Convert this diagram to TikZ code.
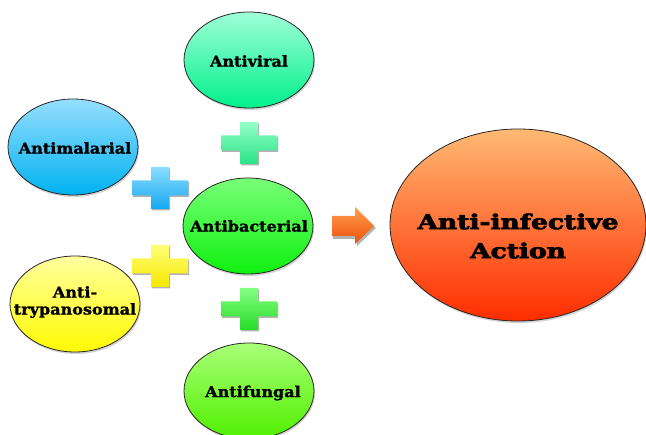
\documentclass[tikz,border=0pt]{standalone}
\usepackage{fontspec}
\setmainfont{DejaVu Serif}
\newfontfamily\heavyfont[FakeBold=1.2]{DejaVu Serif Bold}
\newfontfamily\titlefont[FakeBold=3]{DejaVu Serif Bold}
\usetikzlibrary{shapes.geometric,shadows}
\definecolor{virT}{RGB}{160,255,215}\definecolor{virB}{RGB}{0,240,140}
\definecolor{malT}{RGB}{150,222,255}\definecolor{malB}{RGB}{0,178,240}
\definecolor{bacT}{RGB}{120,255,120}\definecolor{bacB}{RGB}{15,240,15}
\definecolor{triT}{RGB}{255,255,160}\definecolor{triB}{RGB}{255,250,0}
\definecolor{funT}{RGB}{170,255,120}\definecolor{funB}{RGB}{80,240,0}
\definecolor{infT}{RGB}{255,185,115}\definecolor{infB}{RGB}{255,45,0}
\definecolor{arrT}{RGB}{255,160,80}\definecolor{arrB}{RGB}{235,80,10}
\newcommand{\sx}[1]{\scalebox{1.07}[1]{#1}}
\begin{document}
\begin{tikzpicture}[x=1pt,y=1pt,
  bubble/.style={ellipse, draw=black!85, line width=0.8pt, minimum width=130pt,
    minimum height=96pt, inner sep=0pt,
    drop shadow={opacity=0.35,shadow xshift=1pt,shadow yshift=-2pt}},
  lbl/.style={inner sep=0pt, align=center, font=\heavyfont\fontsize{15}{18}\selectfont},
  plussign/.pic={
    \fill[black,opacity=0.3] (-8,-22.5) -- (10,-22.5) -- (10,-9) -- (29,-9) -- (29,6) -- (10,6) -- (10,19.5) -- (-8,19.5) -- (-8,6) -- (-27,6) -- (-27,-9) -- (-8,-9) -- cycle;
    \path[pic actions] (-9,-21) -- (9,-21) -- (9,-7.5) -- (28,-7.5) -- (28,7.5) -- (9,7.5) -- (9,21) -- (-9,21) -- (-9,7.5) -- (-28,7.5) -- (-28,-7.5) -- (-9,-7.5) -- cycle;
  }]
\useasboundingbox (0,0) rectangle (646,-435);

\node[bubble, top color=virT, bottom color=virB] (viral) at (249,-60) {};
\node[lbl] (virallbl) at (249,-61) {\sx{Antiviral}};
\node[bubble, top color=malT, bottom color=malB] (malar) at (73,-147) {};
\node[lbl] (malarlbl) at (75,-148) {\sx{Antimalarial}};
\node[bubble, top color=bacT, bottom color=bacB] (bact) at (248,-226) {};
\node[lbl] (bactlbl) at (249,-226) {\sx{Antibacterial}};
\node[bubble, top color=triT, bottom color=triB] (tryp) at (75,-304) {};
\node[lbl] (tryplbl) at (75,-302) {\sx{Anti-}\\[-1pt]\sx{trypanosomal}};
\node[bubble, top color=funT, bottom color=funB] (fung) at (249,-391) {};
\node[lbl] (funglbl) at (253,-393) {\sx{Antifungal}};

\node[bubble, minimum width=256pt, minimum height=192pt, top color=infT, bottom color=infB] (infect) at (518,-225) {};
\node[font=\titlefont\fontsize{20.5}{29}\selectfont, align=center, inner sep=0pt] (inftext) at (518,-236)
  {\scalebox{1.29}[1]{Anti-infective}\\\scalebox{1.29}[1]{Action}};

\pic[top color={rgb,255:red,150;green,255;blue,200}, bottom color={rgb,255:red,40;green,228;blue,135}] (plustop) at (249,-143) {plussign};
\pic[top color={rgb,255:red,140;green,222;blue,255}, bottom color={rgb,255:red,20;green,168;blue,240}] (plusblue) at (160,-188) {plussign};
\pic[top color={rgb,255:red,255;green,255;blue,120}, bottom color={rgb,255:red,245;green,232;blue,0}] (plusyellow) at (160,-266) {plussign};
\pic[top color={rgb,255:red,130;green,255;blue,130}, bottom color={rgb,255:red,40;green,220;blue,40}] (plusbottom) at (249,-309) {plussign};

\fill[black,opacity=0.3] (333,-219) -- (357,-219) -- (357,-210) -- (376,-228) -- (357,-246) -- (357,-239) -- (333,-239) -- cycle;
\path[top color=arrT, bottom color=arrB] (332,-216) -- (355,-216) -- (355,-207) -- (374,-226) -- (355,-244) -- (355,-236) -- (332,-236) -- cycle;
\end{tikzpicture}
\end{document}
